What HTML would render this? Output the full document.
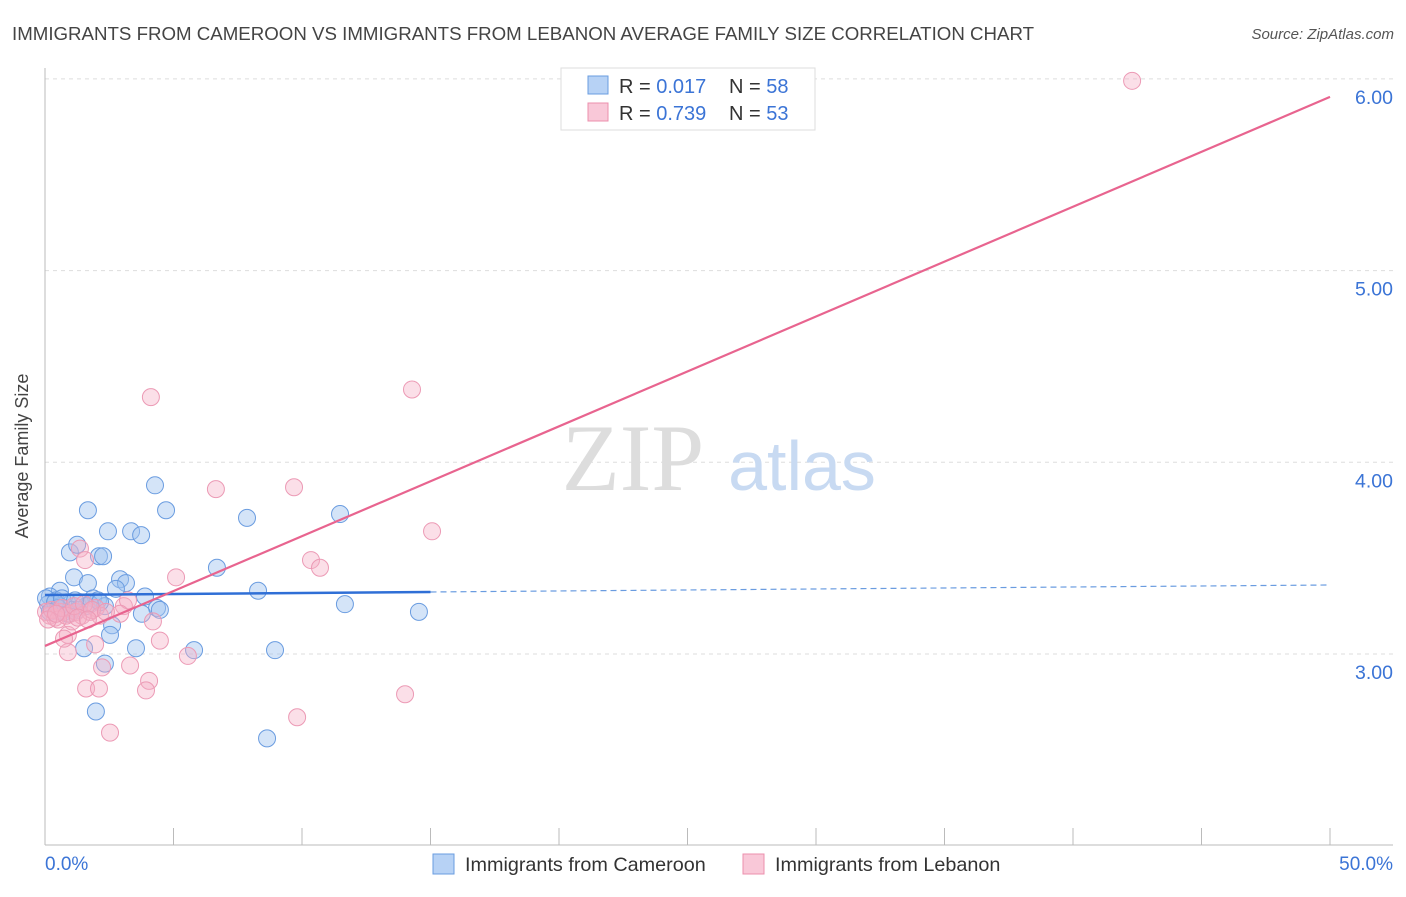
<!DOCTYPE html>
<html><head><meta charset="utf-8"><style>
body{margin:0;background:#fff;font-family:"Liberation Sans",sans-serif}
</style></head><body>
<svg width="1406" height="892" xmlns="http://www.w3.org/2000/svg" font-family="Liberation Sans, sans-serif">
<text x="12" y="40" font-size="18.7" fill="#444">IMMIGRANTS FROM CAMEROON VS IMMIGRANTS FROM LEBANON AVERAGE FAMILY SIZE CORRELATION CHART</text>
<text x="1394" y="39" font-size="15" fill="#555" font-style="italic" text-anchor="end">Source: ZipAtlas.com</text>
<text x="28" y="456" font-size="18" fill="#444" text-anchor="middle" transform="rotate(-90 28 456)">Average Family Size</text>
<g id="grid"></g>
<text x="633" y="490" font-size="95" fill="#ddd" font-family="Liberation Serif, serif" text-anchor="middle">ZIP</text>
<text x="802" y="490" font-size="70" fill="#c8daf2" text-anchor="middle">atlas</text>
<g id="marks"></g>
<g>
<rect x="561" y="68" width="254" height="62" fill="#fff" stroke="#ddd"/>
<rect x="588" y="76" width="20" height="18" fill="#b7d2f5" stroke="#6a9ce0"/>
<text x="619" y="93" font-size="20" fill="#333">R = <tspan fill="#3b74d6">0.017</tspan></text>
<text x="729" y="93" font-size="20" fill="#333">N = <tspan fill="#3b74d6">58</tspan></text>
<rect x="588" y="103" width="20" height="18" fill="#f9c8d8" stroke="#ec8fad"/>
<text x="619" y="120" font-size="20" fill="#333">R = <tspan fill="#3b74d6">0.739</tspan></text>
<text x="729" y="120" font-size="20" fill="#333">N = <tspan fill="#3b74d6">53</tspan></text>
</g>
<g>
<rect x="433" y="854" width="21" height="20" fill="#b7d2f5" stroke="#6a9ce0"/>
<text x="465" y="871" font-size="19.8" fill="#333">Immigrants from Cameroon</text>
<rect x="743" y="854" width="21" height="20" fill="#f9c8d8" stroke="#ec8fad"/>
<text x="775" y="871" font-size="19.8" fill="#333">Immigrants from Lebanon</text>
</g>
<text x="45" y="870" font-size="19" fill="#3b74d6">0.0%</text>
<text x="1393" y="870" font-size="19" fill="#3b74d6" text-anchor="end">50.0%</text>
</svg>
<script>
const yTicks=[3,4,5,6];
const yTickLabels=["3.00","4.00","5.00","6.00"];
const xTicks=[0,5,10,15,20,25,30,35,40,45,50];
const blueX=[4.28,1.67,4.71,7.86,11.48,2.45,3.35,3.74,0.97,1.25,2.10,2.26,6.69,1.13,2.92,3.15,1.67,0.58,2.76,3.89,8.29,0.19,0.43,1.87,2.06,0.86,1.36,1.60,2.33,4.36,4.47,11.67,14.55,3.77,2.61,2.53,3.54,1.52,5.80,8.95,2.33,1.98,8.64,0.12,0.27,0.58,1.05,0.74,1.75,2.14,0.04,0.39,1.28,0.89,0.51,0.19,0.66,1.17];
const blueY=[3.88,3.75,3.75,3.71,3.73,3.64,3.64,3.62,3.53,3.57,3.51,3.51,3.45,3.40,3.39,3.37,3.37,3.33,3.34,3.30,3.33,3.30,3.28,3.29,3.28,3.27,3.27,3.25,3.25,3.24,3.23,3.26,3.22,3.21,3.15,3.10,3.03,3.03,3.02,3.02,2.95,2.70,2.56,3.26,3.23,3.25,3.23,3.22,3.26,3.27,3.29,3.27,3.23,3.21,3.24,3.22,3.29,3.28];
const pinkX=[42.30,4.12,14.28,6.65,9.69,15.06,10.35,10.70,5.10,1.36,1.56,3.07,3.23,4.20,4.47,5.56,0.89,1.95,2.22,3.31,4.05,3.93,1.60,2.10,2.53,9.81,14.01,0.89,1.05,0.74,0.19,0.39,0.58,0.97,1.21,1.44,1.75,1.98,2.14,0.04,0.27,0.51,0.66,0.82,1.13,1.52,1.83,2.92,0.12,0.43,1.28,1.67,2.37];
const pinkY=[5.99,4.34,4.38,3.86,3.87,3.64,3.49,3.45,3.40,3.55,3.49,3.25,3.28,3.17,3.07,2.99,3.01,3.05,2.93,2.94,2.86,2.81,2.82,2.82,2.59,2.67,2.79,3.10,3.17,3.08,3.20,3.19,3.22,3.21,3.22,3.20,3.22,3.24,3.20,3.22,3.23,3.18,3.24,3.20,3.25,3.26,3.23,3.21,3.18,3.21,3.19,3.18,3.22];
const blueTrend=[3.308,3.360];
const pinkTrend=[3.042,5.906];
const NS="http://www.w3.org/2000/svg";
const xs=v=>45+v/50*1285;
const ys=v=>654-(v-3)*191.7;
function mk(t,a,p){const e=document.createElementNS(NS,t);for(const k in a)e.setAttribute(k,a[k]);p.appendChild(e);return e;}
const grid=document.getElementById('grid'),marks=document.getElementById('marks');
yTicks.forEach((t,i)=>{
 const l=mk('line',{x1:45,x2:1393,y1:ys(t),y2:ys(t),stroke:'#ddd','stroke-dasharray':'4,4'},grid);
 
 
 const tx=mk('text',{x:1393,y:ys(t)+25,'font-size':19.5,fill:'#3b74d6','text-anchor':'end'},grid);
 tx.textContent=yTickLabels[i];
 
 
});
const ax=mk('line',{x1:45,x2:1393,y1:845,y2:845,stroke:'#bbb'},grid);


const ay=mk('line',{x1:45,x2:45,y1:68,y2:845,stroke:'#bbb'},grid);


xTicks.forEach(t=>{
 const l=mk('line',{x1:xs(t),x2:xs(t),y1:828,y2:845,stroke:'#bbb'},grid);
 
 
});
blueX.forEach((x,i)=>{
 const c=mk('circle',{cx:xs(x),cy:ys(blueY[i]),r:8.5,fill:'rgba(160,196,240,0.45)',stroke:'#6a9ce0','stroke-width':1},marks);
 
 
});
pinkX.forEach((x,i)=>{
 const c=mk('circle',{cx:xs(x),cy:ys(pinkY[i]),r:8.5,fill:'rgba(246,175,198,0.4)',stroke:'#ec9ab5','stroke-width':1},marks);
 
 
});
const by=x=>blueTrend[0]+(blueTrend[1]-blueTrend[0])*x/50;
const b1=mk('line',{x1:xs(0),y1:ys(by(0)),x2:xs(15),y2:ys(by(15)),stroke:'#2f6fd6','stroke-width':2.5},marks);


const b2=mk('line',{x1:xs(15),y1:ys(by(15)),x2:xs(50),y2:ys(by(50)),stroke:'#6a9ce0','stroke-width':1.2,'stroke-dasharray':'6,4'},marks);


const p1=mk('line',{x1:xs(0),y1:ys(pinkTrend[0]),x2:xs(50),y2:ys(pinkTrend[1]),stroke:'#e8648f','stroke-width':2.2},marks);


</script>
</body></html>
